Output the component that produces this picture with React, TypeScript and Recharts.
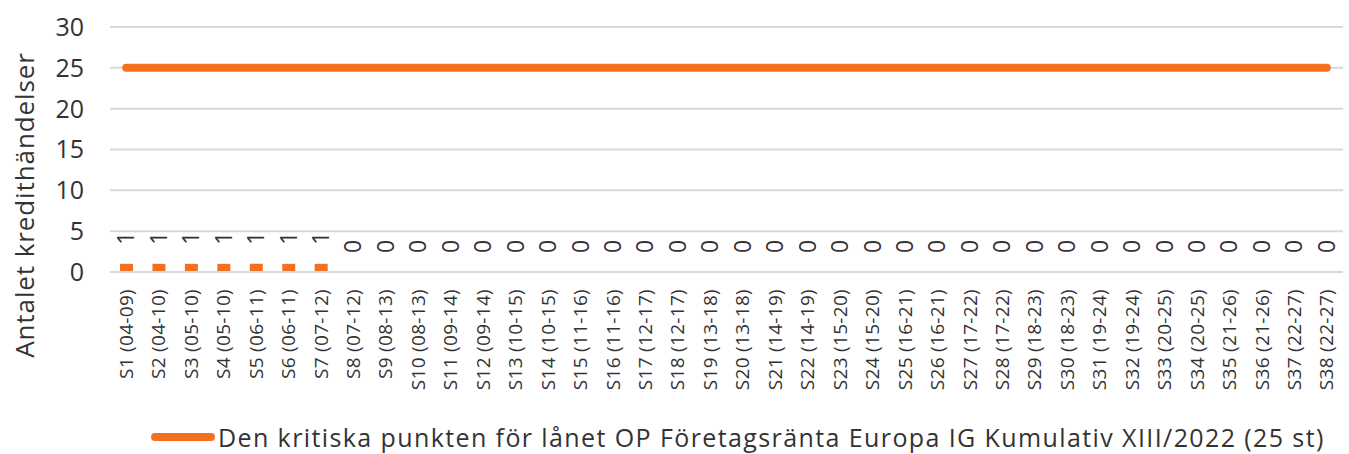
import React from "react";
import {
  ComposedChart,
  Bar,
  Line,
  XAxis,
  YAxis,
  CartesianGrid,
  Legend,
  LabelList,
} from "recharts";

const categories = [
  "S1 (04-09)", "S2 (04-10)", "S3 (05-10)", "S4 (05-10)", "S5 (06-11)",
  "S6 (06-11)", "S7 (07-12)", "S8 (07-12)", "S9 (08-13)", "S10 (08-13)",
  "S11 (09-14)", "S12 (09-14)", "S13 (10-15)", "S14 (10-15)", "S15 (11-16)",
  "S16 (11-16)", "S17 (12-17)", "S18 (12-17)", "S19 (13-18)", "S20 (13-18)",
  "S21 (14-19)", "S22 (14-19)", "S23 (15-20)", "S24 (15-20)", "S25 (16-21)",
  "S26 (16-21)", "S27 (17-22)", "S28 (17-22)", "S29 (18-23)", "S30 (18-23)",
  "S31 (19-24)", "S32 (19-24)", "S33 (20-25)", "S34 (20-25)", "S35 (21-26)",
  "S36 (21-26)", "S37 (22-27)", "S38 (22-27)",
];

const creditEvents = [
  1, 1, 1, 1, 1, 1, 1, 0, 0, 0, 0, 0, 0, 0, 0, 0, 0, 0, 0,
  0, 0, 0, 0, 0, 0, 0, 0, 0, 0, 0, 0, 0, 0, 0, 0, 0, 0, 0,
];

const criticalPoint = [
  25, 25, 25, 25, 25, 25, 25, 25, 25, 25, 25, 25, 25, 25, 25, 25, 25, 25, 25,
  25, 25, 25, 25, 25, 25, 25, 25, 25, 25, 25, 25, 25, 25, 25, 25, 25, 25, 25,
];

const yTicks = [0, 5, 10, 15, 20, 25, 30];

const yLabel = "Antalet kredithändelser";
const legendText =
  "Den kritiska punkten för lånet OP Företagsränta Europa IG Kumulativ XIII/2022 (25 st)";

const ORANGE = "#F47021";
const TEXT = "#333333";
const FONT = "'Open Sans', sans-serif";

const data = categories.map((name, i) => ({
  name,
  events: creditEvents[i],
  critical: criticalPoint[i],
}));

function XTick({ x, y, payload }: any) {
  return (
    <g transform={`translate(${x},${y})`}>
      <text
        transform="rotate(-90)"
        x={-15}
        y={0}
        dy="0.35em"
        textAnchor="end"
        fontSize={19}
        letterSpacing={0.3}
        fill={TEXT}
        fontFamily={FONT}
      >
        {payload.value}
      </text>
    </g>
  );
}

// value labels sit on an invisible line so zero values get one too
function PointValue(props: any) {
  const { x, y, value } = props;
  return (
    <g transform={`translate(${x},${y - 19})`}>
      <text
        transform="rotate(-90)"
        x={0}
        y={0}
        dy="0.35em"
        textAnchor="start"
        fontSize={23}
        fill={TEXT}
        fontFamily={FONT}
      >
        {value}
      </text>
    </g>
  );
}

function YLabel({ viewBox }: any) {
  const x = (viewBox?.x ?? 0) + 25;
  const y = 205;
  return (
    <text
      transform={`translate(${x},${y}) rotate(-90)`}
      textAnchor="middle"
      dy="0.35em"
      fontSize={26}
      letterSpacing={0.9}
      fill={TEXT}
      fontFamily={FONT}
    >
      {yLabel}
    </text>
  );
}

function LegendContent() {
  return (
    <div
      style={{
        display: "flex",
        alignItems: "center",
        marginLeft: 150,
        paddingTop: 18,
        height: 34,
        fontFamily: FONT,
        fontSize: 25,
        letterSpacing: 1.4,
        color: TEXT,
        whiteSpace: "nowrap",
      }}
    >
      <svg width={66} height={10} style={{ marginRight: 2 }}>
        <line
          x1={5}
          y1={5}
          x2={61}
          y2={5}
          stroke={ORANGE}
          strokeWidth={8}
          strokeLinecap="round"
        />
      </svg>
      <span>{legendText}</span>
    </div>
  );
}

export default function App() {
  return (
    <div style={{ position: "fixed", left: 0, top: 0, background: "#fff" }}>
      <ComposedChart
        width={1349}
        height={454}
        data={data}
        margin={{ top: 27, right: 6, left: 0, bottom: 0 }}
      >
        <CartesianGrid vertical={false} stroke="#d9d9d9" strokeWidth={2} />
        <XAxis
          dataKey="name"
          interval={0}
          height={130}
          tick={<XTick />}
          tickLine={false}
          tickSize={0}
          axisLine={{ stroke: "#d9d9d9", strokeWidth: 2 }}
        />
        <YAxis
          domain={[0, 30]}
          ticks={yTicks}
          width={110}
          axisLine={false}
          tickLine={false}
          tickMargin={20}
          tick={{ fontSize: 25, fill: TEXT, fontFamily: FONT }}
          label={<YLabel />}
        />
        <Bar dataKey="events" fill={ORANGE} barSize={13} isAnimationActive={false} />
        <Line
          dataKey="events"
          stroke="none"
          dot={false}
          activeDot={false}
          legendType="none"
          isAnimationActive={false}
        >
          <LabelList dataKey="events" content={<PointValue />} />
        </Line>
        <Line
          dataKey="critical"
          stroke={ORANGE}
          strokeWidth={8}
          strokeLinecap="round"
          dot={false}
          activeDot={false}
          isAnimationActive={false}
        />
        <Legend
          verticalAlign="bottom"
          height={52}
          content={<LegendContent />}
          wrapperStyle={{ left: 0, width: 1349 }}
        />
      </ComposedChart>
    </div>
  );
}
